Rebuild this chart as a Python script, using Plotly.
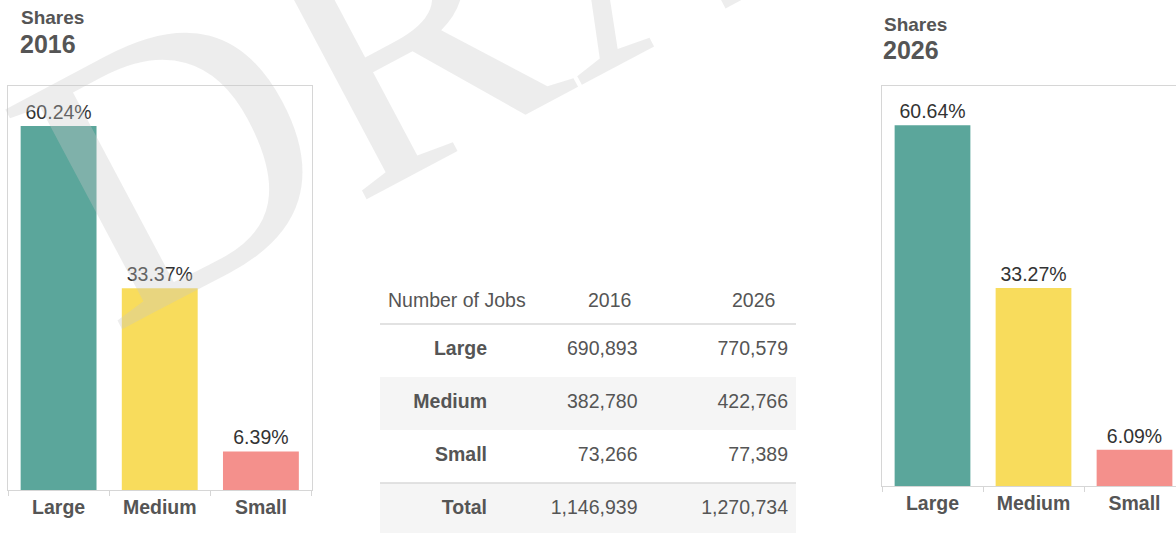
import plotly.graph_objects as go

# ---------------- data ----------------
categories = ["Large", "Medium", "Small"]
shares_2016 = [60.24, 33.37, 6.39]
shares_2026 = [60.64, 33.27, 6.09]

table_header = ["Number of Jobs", "2016", "2026"]
table_rows = ["Large", "Medium", "Small", "Total"]
jobs_2016 = [690893, 382780, 73266, 1146939]
jobs_2026 = [770579, 422766, 77389, 1270734]

# ---------------- style ----------------
W, H = 1176, 533
bar_colors = ["#5BA69B", "#F8DC5C", "#F4908C"]
FONT = "Liberation Sans, Arial, sans-serif"
GRAY = "#555555"
LINE = "#d6d6d6"
FS = 19.5


def px_x(p):
    return p / W


def px_y(p):
    return 1 - p / H


fig = go.Figure()

for xa, ya, vals in [("x", "y", shares_2016), ("x2", "y2", shares_2026)]:
    fig.add_trace(go.Bar(
        x=categories, y=vals, xaxis=xa, yaxis=ya,
        marker=dict(color=bar_colors, line=dict(width=0)),
        width=0.75,
        texttemplate="%{y:.2f}%", textposition="outside", cliponaxis=False,
        textfont=dict(family=FONT, size=FS, color="#333333"),
        hoverinfo="skip",
    ))

# ---------------- table (on a hidden axis pair) ----------------
col_right_px = 487.0   # right edge of first column text
col_step_px = 150.5
row0_px = 350.5
row_step_px = 53.0

rows_idx = list(range(len(table_rows)))
fig.add_trace(go.Scatter(
    x=[0] * len(table_rows), y=rows_idx, mode="text", text=table_rows,
    textposition="middle left", xaxis="x3", yaxis="y3",
    textfont=dict(family=FONT, size=FS, color=GRAY, weight="bold"),
    hoverinfo="skip", cliponaxis=False,
))
for ci, col in enumerate([jobs_2016, jobs_2026], start=1):
    fig.add_trace(go.Scatter(
        x=[ci] * len(col), y=rows_idx, mode="text",
        text=[f"{v:,}" for v in col],
        textposition="middle left", xaxis="x3", yaxis="y3",
        textfont=dict(family=FONT, size=FS, color=GRAY),
        hoverinfo="skip", cliponaxis=False,
    ))

tbl_left = (380 - col_right_px) / col_step_px
tbl_right = (796 - col_right_px) / col_step_px
shapes = []
for r in [1, 3]:
    shapes.append(dict(type="rect", xref="x3", yref="y3", x0=tbl_left, x1=tbl_right,
                       y0=r - 0.5, y1=r + 0.5, fillcolor="#f5f5f5",
                       line=dict(width=0), layer="below"))
for yb in [-0.5, 2.5]:
    shapes.append(dict(type="line", xref="x3", yref="y3", x0=tbl_left, x1=tbl_right,
                       y0=yb, y1=yb, line=dict(color="#d9d9d9", width=1.5)))

header_y = (300 - row0_px) / row_step_px
annotations = [
    dict(text=table_header[0], xref="x3", yref="y3",
         x=(386 - col_right_px) / col_step_px, y=header_y, xanchor="left", yanchor="middle",
         showarrow=False, font=dict(family=FONT, size=FS, color=GRAY)),
    dict(text=table_header[1], xref="x3", yref="y3",
         x=(609 - col_right_px) / col_step_px, y=header_y, xanchor="center", yanchor="middle",
         showarrow=False, font=dict(family=FONT, size=FS, color=GRAY)),
    dict(text=table_header[2], xref="x3", yref="y3",
         x=(753 - col_right_px) / col_step_px, y=header_y, xanchor="center", yanchor="middle",
         showarrow=False, font=dict(family=FONT, size=FS, color=GRAY)),
]

# titles
for xl, y1, y2, yr in [(20, 18, 44, "2016"), (883, 24, 50, "2026")]:
    annotations.append(dict(text="Shares", xref="paper", yref="paper", x=px_x(xl - 1), y=px_y(y1),
                            xanchor="left", yanchor="middle", showarrow=False,
                            font=dict(family=FONT, size=19, color=GRAY, weight="bold")))
    annotations.append(dict(text=yr, xref="paper", yref="paper", x=px_x(xl - 2), y=px_y(y2),
                            xanchor="left", yanchor="middle", showarrow=False,
                            font=dict(family=FONT, size=25, color=GRAY, weight="bold")))

# watermark
annotations.append(dict(text="DRAFT", xref="paper", yref="paper", x=px_x(602), y=px_y(-72),
                        xanchor="center", yanchor="middle", showarrow=False, textangle=-28,
                        font=dict(family="Liberation Serif, Times New Roman, serif", size=380,
                                  color="rgba(200,200,200,0.33)")))

xcommon = dict(type="category", showline=True, linecolor=LINE, linewidth=1,
               ticks="outside", tickson="boundaries", ticklen=5, tickcolor=LINE,
               tickfont=dict(family=FONT, size=FS, color=GRAY, weight="bold"),
               showgrid=False, zeroline=False, fixedrange=True)
ycommon = dict(showline=True, linecolor=LINE, linewidth=1, showticklabels=False,
               ticks="", showgrid=False, zeroline=False, fixedrange=True)

fig.update_layout(
    width=W, height=H, margin=dict(l=0, r=0, t=0, b=0),
    paper_bgcolor="white", plot_bgcolor="rgba(0,0,0,0)", showlegend=False,
    xaxis=dict(**xcommon, domain=[px_x(8), px_x(311.5)], range=[-0.5, 2.5], mirror=True, anchor="y"),
    yaxis=dict(**ycommon, domain=[px_y(490), px_y(86)], range=[0, 66.86], mirror=True, anchor="x"),
    xaxis2=dict(**xcommon, domain=[px_x(882), 1.0], range=[-0.5, -0.5 + (W - 882) / 101.0],
                mirror=True, anchor="y2"),
    yaxis2=dict(**ycommon, domain=[px_y(486), px_y(86)], range=[0, 67.25], mirror=False, anchor="x2"),
    xaxis3=dict(domain=[0, 1], range=[(0 - col_right_px) / col_step_px, (W - col_right_px) / col_step_px],
                visible=False, fixedrange=True, anchor="y3"),
    yaxis3=dict(domain=[0, px_y(270)],
                range=[(H - row0_px) / row_step_px, (270 - row0_px) / row_step_px],
                visible=False, fixedrange=True, anchor="x3"),
    shapes=shapes, annotations=annotations,
)

fig.write_html(
    "out.html",
    config={"displayModeBar": False},
    post_script="document.body.style.margin='0';document.body.style.overflow='hidden';",
)
